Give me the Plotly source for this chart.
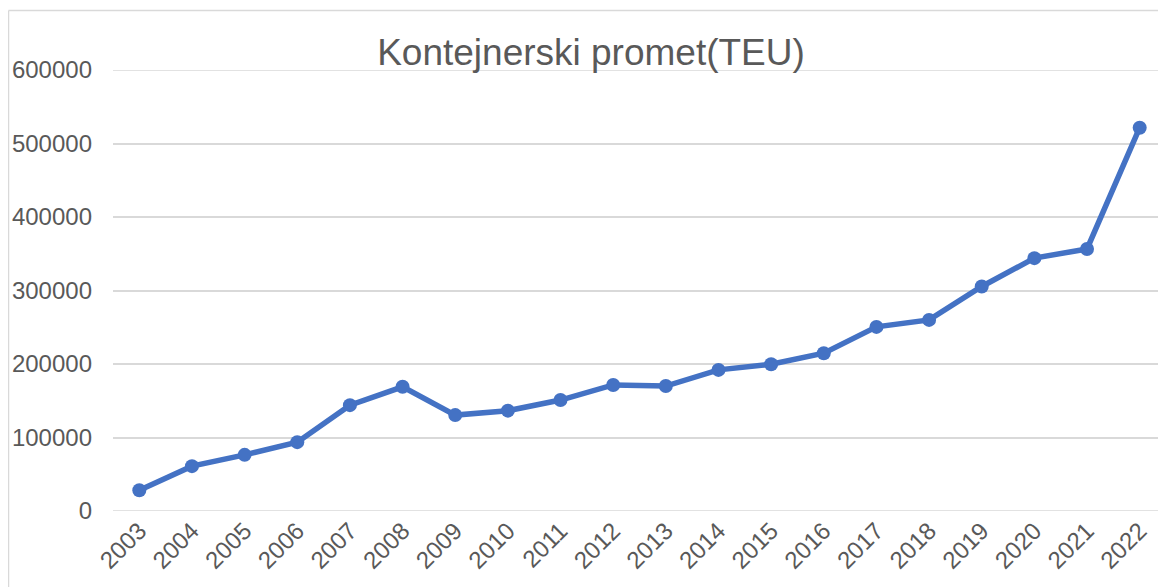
import plotly.graph_objects as go

years = [str(y) for y in range(2003, 2023)]
teu = [28200, 61000, 76400, 93700, 144000, 169000, 130500, 136500, 151000, 171500,
       170000, 192000, 199700, 214700, 250500, 260000, 305500, 344000, 356500, 521500]
y_ticks = [0, 100000, 200000, 300000, 400000, 500000, 600000]

# page has an 8px body margin, so the figure is drawn 8px smaller
W, H = 1158, 579
L, R, T, B = 105, 0, 62, 76

fig = go.Figure()
for v in (y_ticks[0], y_ticks[-1]):
    fig.add_shape(type="line", xref="paper", yref="y", x0=0, x1=1, y0=v, y1=v,
                  line=dict(color="#d9d9d9", width=1.5), layer="below")

fig.add_trace(go.Scatter(
    x=years, y=teu, mode="lines+markers",
    line=dict(color="#4472C4", width=5.5),
    marker=dict(color="#4472C4", size=14),
    showlegend=False, cliponaxis=False,
))

pw = W - L - R
ph = H - T - B
x_left = (0.5 - L) / pw
y_top = (H - B - 2.5) / ph

fig.add_shape(type="line", xref="paper", yref="paper", x0=x_left, x1=x_left,
              y0=-0.3, y1=y_top, line=dict(color="#d9d9d9", width=1.5))
fig.add_shape(type="line", xref="paper", yref="paper", x0=x_left, x1=1.05,
              y0=y_top, y1=y_top, line=dict(color="#d9d9d9", width=1.5))

fig.update_layout(
    width=W, height=H,
    margin=dict(l=L, r=R, t=T, b=B),
    paper_bgcolor="white", plot_bgcolor="white",
    font=dict(family="Liberation Sans, Arial, sans-serif", color="#595959", size=24),
    title=dict(text="Kontejnerski promet(TEU)", x=583 / W, xanchor="center",
               y=1 - 44 / H, yanchor="middle", yref="container",
               font=dict(size=37, color="#595959")),
    xaxis=dict(type="category", tickangle=-45, showgrid=False, showline=False,
               ticks="", tickfont=dict(size=24, color="#595959"), range=[-0.5, 19.5]),
    yaxis=dict(range=[0, 600000], tickvals=y_ticks, ticktext=[str(v) for v in y_ticks],
               showgrid=True, gridcolor="#d9d9d9", gridwidth=1.5, zeroline=False,
               showline=False, ticks="", ticklabelstandoff=20,
               tickfont=dict(size=24, color="#595959")),
)

fig.write_html("out.html")
